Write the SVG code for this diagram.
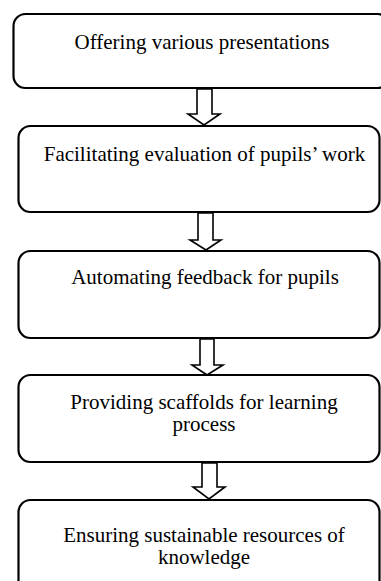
<svg xmlns="http://www.w3.org/2000/svg" width="381" height="581" viewBox="0 0 381 581">
<style>
.box{fill:#fff;stroke:#000;stroke-width:2.2}
.arr{fill:#fff;stroke:#000;stroke-width:1.6;stroke-linejoin:miter}
.t{font-size:21px;fill:#000;text-anchor:middle}
</style>
<rect width="381" height="581" fill="#fff"/>
<g font-family="'Liberation Serif', 'Times New Roman', Times, 'DejaVu Serif', serif">
<g id="n1"><rect class="box" x="13.5" y="14" width="376" height="74" rx="12"/><text class="t" x="202" y="49">Offering various presentations</text></g>
<g id="n2"><rect class="box" x="18.5" y="126" width="361" height="86" rx="12"/><text class="t" x="204.5" y="161">Facilitating evaluation of pupils’ work</text></g>
<g id="n3"><rect class="box" x="18.5" y="251" width="361" height="87" rx="12"/><text class="t" x="205" y="284">Automating feedback for pupils</text></g>
<g id="n4"><rect class="box" x="18.5" y="375" width="361" height="87" rx="12"/><text class="t" x="204" y="409">Providing scaffolds for learning</text><text class="t" x="204" y="431">process</text></g>
<g id="n5"><rect class="box" x="18.5" y="500" width="361" height="110" rx="12"/><text class="t" x="204" y="542">Ensuring sustainable resources of</text><text class="t" x="204" y="564">knowledge</text></g>
</g>
<g id="connectors">
<polygon class="arr" points="197,89 212,89 212,114 220,114 204,125 188,114 197,114"/>
<polygon class="arr" points="198,213 213,213 213,240 221,240 206,250 190,240 198,240"/>
<polygon class="arr" points="200,339 214,339 214,365 223,365 207,375 192,365 200,365"/>
<polygon class="arr" points="202,463 217,463 217,487 225,487 209,499 193,487 202,487"/>
</g>
</svg>
